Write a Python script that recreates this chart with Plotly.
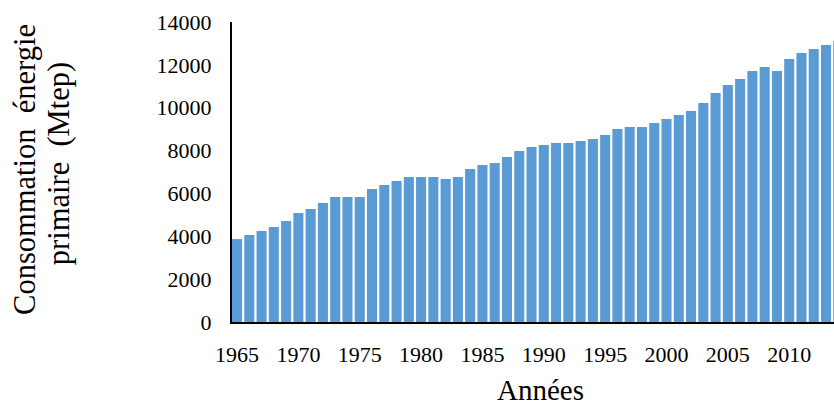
import plotly.graph_objects as go

annees = list(range(1965, 2015))
consommation = [3870, 4060, 4250, 4430, 4710, 5090, 5270, 5550, 5830, 5830,
                5830, 6210, 6390, 6580, 6770, 6770, 6770, 6670, 6770, 7140,
                7330, 7420, 7700, 7980, 8170, 8260, 8350, 8350, 8450, 8540,
                8730, 9010, 9100, 9100, 9290, 9470, 9660, 9850, 10220, 10690,
                11060, 11340, 11710, 11900, 11710, 12270, 12550, 12740, 12930, 13110]
tick_annees = [1965, 1970, 1975, 1980, 1985, 1990, 1995, 2000, 2005, 2010]

police = "Liberation Serif, Times New Roman, serif"

fig = go.Figure()
fig.add_trace(go.Bar(x=annees, y=consommation, marker_color='#5B9BD5',
                     marker_line_width=0, name='Consommation'))

fig.update_layout(width=834, height=405, plot_bgcolor='white', paper_bgcolor='white',
                  margin=dict(l=232, r=0, t=22, b=83), showlegend=False, bargap=0.18,
                  font=dict(family=police, color='black', size=22))
fig.update_xaxes(range=[1964.59, 2013.65], tickvals=tick_annees, showgrid=False,
                 showline=True, linecolor='black', linewidth=2, ticks='',
                 ticklabelstandoff=12, tickfont=dict(size=22))
fig.update_yaxes(range=[0, 14000], dtick=2000, tickformat='d', showgrid=False,
                 zeroline=False, showline=True, linecolor='black', linewidth=2,
                 ticks='', ticklabelstandoff=14, tickfont=dict(size=22))

fig.add_annotation(text="Années", xref='paper', yref='paper', x=0.512, y=-0.227,
                   xanchor='center', yanchor='middle', showarrow=False,
                   font=dict(size=29))
fig.add_annotation(text="Consommation  énergie", xref='paper', yref='paper',
                   x=-0.344, y=0.51, xanchor='center', yanchor='middle',
                   textangle=-90, showarrow=False, font=dict(size=30.5))
fig.add_annotation(text="primaire  (Mtep)", xref='paper', yref='paper',
                   x=-0.287, y=0.527, xanchor='center', yanchor='middle',
                   textangle=-90, showarrow=False, font=dict(size=30.5))

# pas de marge autour de la page
fig.write_html("out.html", config={'displayModeBar': False},
               post_script="document.body.style.margin = '0';")
